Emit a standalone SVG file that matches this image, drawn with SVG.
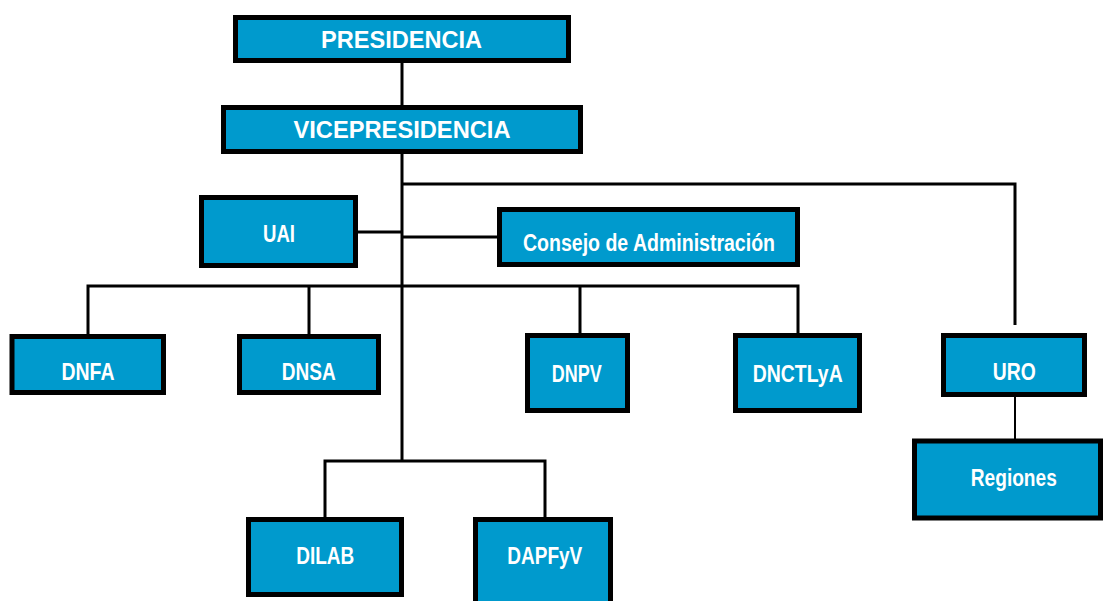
<svg xmlns="http://www.w3.org/2000/svg" width="1103" height="601" viewBox="0 0 1103 601">
<style>
.box{fill:#009ACD;stroke:#000;stroke-width:5}
.lbl{font-family:"Liberation Sans",Arial,sans-serif;font-weight:bold;font-size:23px;fill:#fff;text-anchor:middle}
.ln{fill:none;stroke:#000;stroke-width:3}
</style>
<rect width="1103" height="601" fill="#fff"/>
<g id="connectors">
<path class="ln" d="M402,63V105"/>
<path class="ln" d="M402,154V461"/>
<path class="ln" d="M402,184H1015V325"/>
<path class="ln" d="M358,232H402"/>
<path class="ln" d="M402,237H498"/>
<path class="ln" d="M88,335V286H798V334"/>
<path class="ln" d="M309,286V335"/>
<path class="ln" d="M580,286V334"/>
<path class="ln" d="M325,518V461H545V518"/>
<path d="M1015,397V440" fill="none" stroke="#000" stroke-width="2"/>
</g>
<g id="presidencia"><rect class="box" x="235.5" y="17.5" width="333" height="43"/><text class="lbl" x="401.5" y="48" textLength="161" lengthAdjust="spacingAndGlyphs">PRESIDENCIA</text></g>
<g id="vicepresidencia"><rect class="box" x="223.5" y="107.5" width="357" height="44"/><text class="lbl" x="402" y="138" textLength="217" lengthAdjust="spacingAndGlyphs">VICEPRESIDENCIA</text></g>
<g id="uai"><rect class="box" x="201.5" y="197.5" width="154" height="68"/><text class="lbl" x="279" y="242" textLength="32" lengthAdjust="spacingAndGlyphs">UAI</text></g>
<g id="consejo"><rect class="box" x="499.5" y="209.5" width="298" height="55"/><text class="lbl" x="649" y="251" textLength="252" lengthAdjust="spacingAndGlyphs">Consejo de Administración</text></g>
<g id="dnfa"><rect class="box" x="12" y="336.5" width="151.5" height="56"/><text class="lbl" x="88" y="380" textLength="53" lengthAdjust="spacingAndGlyphs">DNFA</text></g>
<g id="dnsa"><rect class="box" x="239.5" y="336.5" width="139" height="56"/><text class="lbl" x="308.7" y="380" textLength="54" lengthAdjust="spacingAndGlyphs">DNSA</text></g>
<g id="dnpv"><rect class="box" x="527.5" y="335.5" width="100" height="75"/><text class="lbl" x="576.7" y="381.7" textLength="50" lengthAdjust="spacingAndGlyphs">DNPV</text></g>
<g id="dnctlya"><rect class="box" x="735.5" y="335.5" width="124" height="75"/><text class="lbl" x="797.7" y="381.7" textLength="90" lengthAdjust="spacingAndGlyphs">DNCTLyA</text></g>
<g id="uro"><rect class="box" x="943.5" y="335.5" width="141" height="59"/><text class="lbl" x="1014.3" y="380" textLength="43" lengthAdjust="spacingAndGlyphs">URO</text></g>
<g id="regiones"><rect class="box" x="914.5" y="441" width="186" height="77"/><text class="lbl" x="1013.8" y="486" textLength="86" lengthAdjust="spacingAndGlyphs">Regiones</text></g>
<g id="dilab"><rect class="box" x="248.5" y="519.5" width="153" height="75"/><text class="lbl" x="325.2" y="564" textLength="58" lengthAdjust="spacingAndGlyphs">DILAB</text></g>
<g id="dapfyv"><rect class="box" x="475.5" y="519.5" width="135" height="90"/><text class="lbl" x="544.8" y="564" textLength="75" lengthAdjust="spacingAndGlyphs">DAPFyV</text></g>
</svg>
